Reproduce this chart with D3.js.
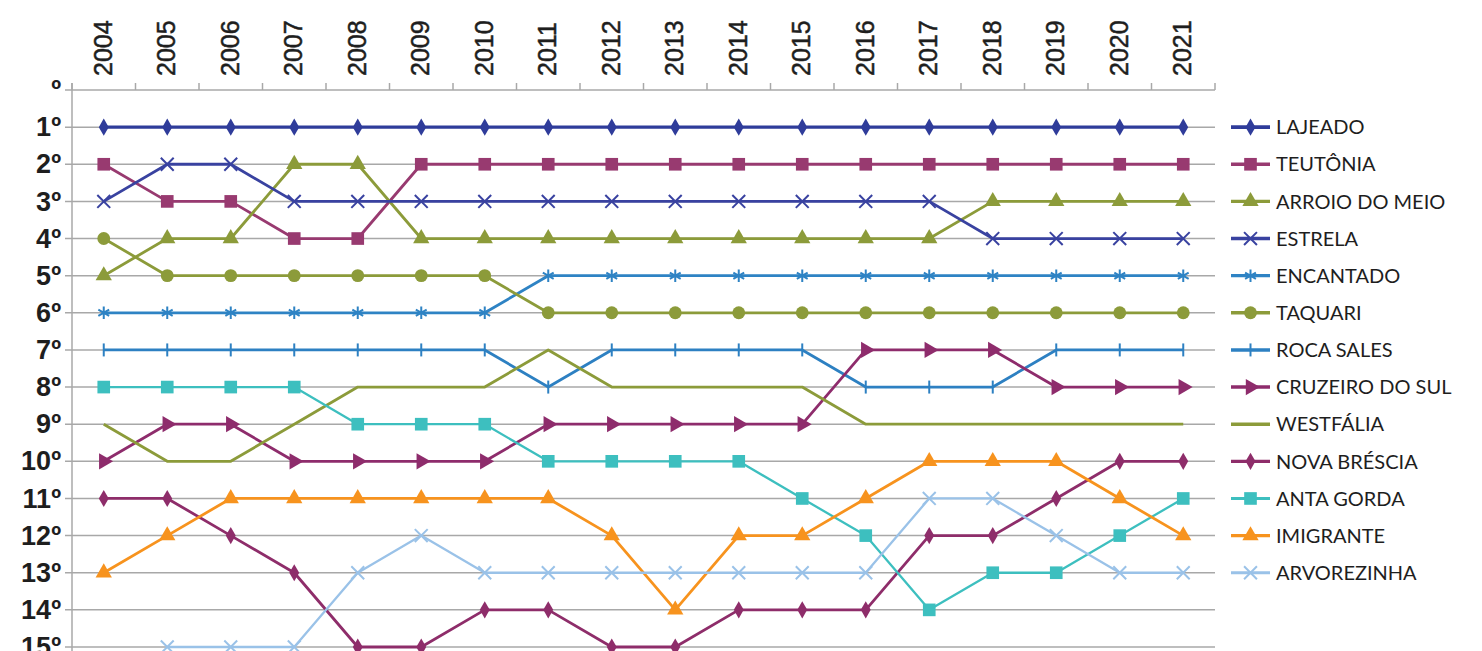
<!DOCTYPE html>
<html>
<head>
<meta charset="utf-8">
<script src="https://cdn.jsdelivr.net/npm/d3@7"></script>
<style>
  html, body { margin: 0; padding: 0; background: #ffffff; }
  svg { display: block; }
  .legend text { font-family: Lato, sans-serif; fill: #1e1e1e; }
  .axis text { font-family: "Liberation Sans", Arial, sans-serif; fill: #1e1e1e; }
</style>
</head>
<body>
<svg id="chart" width="1482" height="651"></svg>
<script>
const years = [2004,2005,2006,2007,2008,2009,2010,2011,2012,2013,2014,2015,2016,2017,2018,2019,2020,2021];
const rankTicks = [0,1,2,3,4,5,6,7,8,9,10,11,12,13,14,15];

const seriesNames = ["LAJEADO","TEUTÔNIA","ARROIO DO MEIO","ESTRELA","ENCANTADO","TAQUARI","ROCA SALES","CRUZEIRO DO SUL","WESTFÁLIA","NOVA BRÉSCIA","ANTA GORDA","IMIGRANTE","ARVOREZINHA"];

const lajeado       = [1,1,1,1,1,1,1,1,1,1,1,1,1,1,1,1,1,1];
const teutonia      = [2,3,3,4,4,2,2,2,2,2,2,2,2,2,2,2,2,2];
const arroioDoMeio  = [5,4,4,2,2,4,4,4,4,4,4,4,4,4,3,3,3,3];
const estrela       = [3,2,2,3,3,3,3,3,3,3,3,3,3,3,4,4,4,4];
const encantado     = [6,6,6,6,6,6,6,5,5,5,5,5,5,5,5,5,5,5];
const taquari       = [4,5,5,5,5,5,5,6,6,6,6,6,6,6,6,6,6,6];
const rocaSales     = [7,7,7,7,7,7,7,8,7,7,7,7,8,8,8,7,7,7];
const cruzeiroDoSul = [10,9,9,10,10,10,10,9,9,9,9,9,7,7,7,8,8,8];
const westfalia     = [9,10,10,9,8,8,8,7,8,8,8,8,9,9,9,9,9,9];
const novaBrescia   = [11,11,12,13,15,15,14,14,15,15,14,14,14,12,12,11,10,10];
const antaGorda     = [8,8,8,8,9,9,9,10,10,10,10,11,12,14,13,13,12,11];
const imigrante     = [13,12,11,11,11,11,11,11,12,14,12,12,11,10,10,10,11,12];
const arvorezinha   = [null,15,15,15,13,12,13,13,13,13,13,13,13,11,11,12,13,13];

const seriesValues = [lajeado,teutonia,arroioDoMeio,estrela,encantado,taquari,rocaSales,cruzeiroDoSul,westfalia,novaBrescia,antaGorda,imigrante,arvorezinha];

// styles (kept separate from data)
const colors  = ["#2f3c9a","#983a70","#8c9b3a","#3942a0","#2e83c4","#8c9b3a","#2d80c2","#8e2c6c","#8c9b3a","#8e2d6a","#3dbfbf","#f7931e","#9ac2e8"];
const markers = ["diamond","square","triangle","times","asterisk","circle","bar","rtriangle","none","diamond","square","triangle","times"];
const widths  = [3.2,2.8,2.8,2.8,2.8,2.8,2.8,2.8,2.8,2.8,2.3,2.8,2.3];

const svg = d3.select("#chart");
const L = 72, R = 1215, T = 90;

const x = d3.scaleBand().domain(years).range([L, R]).padding(0);
const y = d3.scaleLinear().domain([0, 15]).range([T, 647]);
const cx = d => x(d) + x.bandwidth() / 2;

// gridlines
svg.append("g").selectAll("line").data(rankTicks.slice(1)).join("line")
  .attr("x1", L - 7).attr("x2", R)
  .attr("y1", d => y(d)).attr("y2", d => y(d))
  .attr("stroke", "#a8a8a8").attr("stroke-width", 1.5);

// left axis
const yAxis = d3.axisLeft(y).tickValues(rankTicks).tickSize(0).tickPadding(11)
  .tickFormat(d => (d === 0 ? "" : d) + "º");
const gy = svg.append("g").attr("class", "axis").attr("transform", `translate(${L},0)`).call(yAxis);
gy.attr("font-family", null).attr("font-size", null);
gy.select(".domain").remove();
gy.selectAll("text").attr("font-size", 27).attr("font-weight", 700).attr("fill", "#1e1e1e");
svg.append("line").attr("x1", L).attr("x2", L).attr("y1", T - 7).attr("y2", 651)
  .attr("stroke", "#a8a8a8").attr("stroke-width", 1.5);

// top axis
const xAxis = d3.axisTop(x).tickSize(0).tickPadding(0);
const gx = svg.append("g").attr("class", "axis").attr("transform", `translate(0,${T})`).call(xAxis);
gx.attr("font-family", null).attr("font-size", null);
gx.select(".domain").remove();
gx.selectAll(".tick text")
  .attr("transform", "translate(-1,-14) rotate(-90)")
  .attr("text-anchor", "start").attr("dy", "0.36em").attr("y", 0).attr("x", 0)
  .attr("font-size", 25).attr("fill", "#1e1e1e")
  .attr("stroke", "#1e1e1e").attr("stroke-width", 0.5);
svg.append("line").attr("x1", L - 7).attr("x2", R).attr("y1", T).attr("y2", T)
  .attr("stroke", "#a8a8a8").attr("stroke-width", 1.5);
svg.append("g").selectAll("line").data(d3.range(years.length + 1)).join("line")
  .attr("x1", i => L + i * x.step()).attr("x2", i => L + i * x.step())
  .attr("y1", T - 7).attr("y2", T)
  .attr("stroke", "#a8a8a8").attr("stroke-width", 1.5);

// marker generator
function markerPath(kind) {
  switch (kind) {
    case "diamond":  return d3.symbol(d3.symbolDiamond, 85)();
    case "square":   return d3.symbol(d3.symbolSquare, 160)();
    case "triangle": return d3.symbol(d3.symbolTriangle, 115)();
    case "rtriangle":return d3.symbol(d3.symbolTriangle, 115)();
    case "circle":   return d3.symbol(d3.symbolCircle, 130)();
    case "times":    return d3.symbol(d3.symbolTimes, 110)();
    case "asterisk": return d3.symbol(d3.symbolAsterisk, 110)();
    case "bar":      return "M0,-6.5V6.5";
    default: return null;
  }
}
const strokeKinds = new Set(["times","asterisk","bar"]);

function drawMarker(g, kind, color) {
  const p = markerPath(kind);
  if (!p) return;
  const path = g.append("path").attr("d", p);
  if (strokeKinds.has(kind)) {
    path.attr("fill", "none").attr("stroke", color).attr("stroke-width", 2);
  } else {
    path.attr("fill", color);
  }
  if (kind === "rtriangle") path.attr("transform", "rotate(90)");
}

const line = d3.line().defined(d => d.v !== null).x(d => cx(d.year)).y(d => y(d.v));

const plot = svg.append("g");
seriesNames.forEach((name, i) => {
  const data = years.map((yr, j) => ({ year: yr, v: seriesValues[i][j] }));
  const g = plot.append("g");
  g.append("path").datum(data).attr("d", line)
    .attr("fill", "none").attr("stroke", colors[i]).attr("stroke-width", widths[i])
    .attr("stroke-linejoin", "round");
  data.filter(d => d.v !== null).forEach(d => {
    const mg = g.append("g").attr("transform", `translate(${cx(d.year)},${y(d.v)})`);
    drawMarker(mg, markers[i], colors[i]);
  });
});

// legend
const lg = svg.append("g").attr("class", "legend");
seriesNames.forEach((name, i) => {
  const ly = y(i + 1);
  const row = lg.append("g").attr("transform", `translate(1231,${ly})`);
  row.append("line").attr("x1", 0).attr("x2", 39).attr("y1", 0).attr("y2", 0)
    .attr("stroke", colors[i]).attr("stroke-width", widths[i] + 0.6);
  const mg = row.append("g").attr("transform", "translate(19.5,0)");
  drawMarker(mg, markers[i], colors[i]);
  row.append("text").attr("x", 45).attr("y", 0).attr("dy", "0.36em")
    .attr("font-size", 20).text(name);
});
</script>
</body>
</html>
